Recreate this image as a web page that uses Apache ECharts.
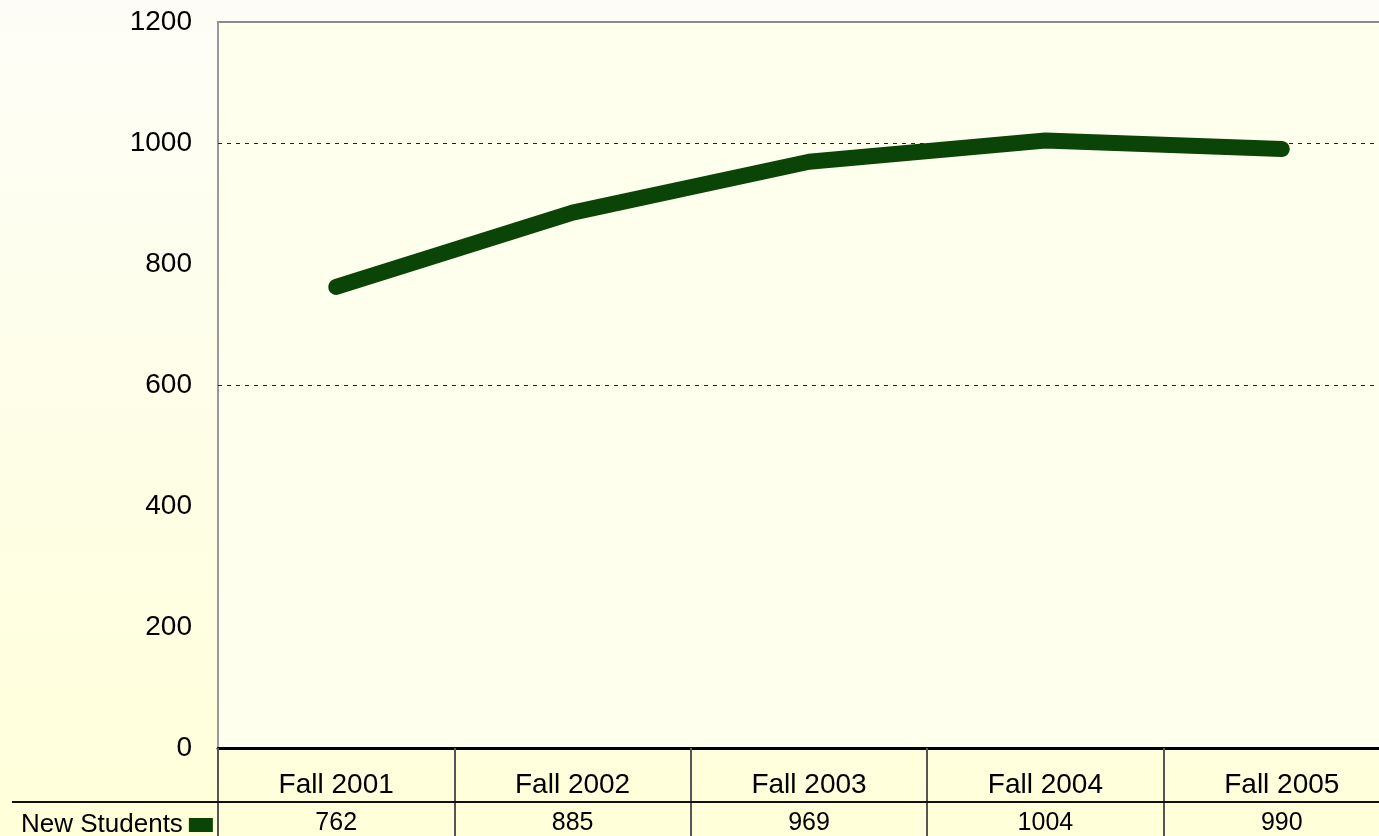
<!DOCTYPE html>
<html>
<head>
<meta charset="utf-8">
<script src="https://cdn.jsdelivr.net/npm/echarts@6/dist/echarts.min.js"></script>
<style>
html,body{margin:0;padding:0;width:1379px;height:836px;overflow:hidden;}
#chart{width:1379px;height:836px;}
</style>
</head>
<body>
<div id="chart"></div>
<script>
var categories = ['Fall 2001', 'Fall 2002', 'Fall 2003', 'Fall 2004', 'Fall 2005'];
var newStudents = [762, 885, 969, 1004, 990];
var seriesName = 'New Students';
var gridLineValues = [600, 1000];
var yMin = 0, yMax = 1200, yStep = 200;

var chart = echarts.init(document.getElementById('chart'));
var font = '"Liberation Sans", Arial, sans-serif';
chart.setOption({
  backgroundColor: new echarts.graphic.LinearGradient(0, 0, 0, 1, [
    {offset: 0, color: '#fdfdf7'},
    {offset: 1, color: '#ffffd9'}
  ]),
  animation: false,
  textStyle: {fontFamily: font},
  grid: {
    show: true,
    left: 218, top: 22, width: 1182, bottom: 88,
    outerBoundsMode: 'none',
    containLabel: false,
    backgroundColor: '#ffffee',
    borderColor: '#8a8a8a',
    borderWidth: 2
  },
  legend: {
    show: true,
    data: [seriesName],
    left: 16, top: 807,
    align: 'right',
    icon: 'rect',
    itemWidth: 24, itemHeight: 14,
    itemGap: 2,
    textStyle: {fontSize: 26, color: '#000', fontFamily: font, padding: [0, 1, 0, 0]}
  },
  xAxis: {
    type: 'category',
    data: categories,
    boundaryGap: true,
    axisLine: {show: true, lineStyle: {color: '#000', width: 3}},
    axisTick: {show: true, interval: 0, length: 88, lineStyle: {color: '#555', width: 2}},
    axisLabel: {
      interval: 0,
      margin: 17,
      color: '#000',
      formatter: function (v, i) { return '{c|' + v + '}\n{v|' + newStudents[i] + '}'; },
      rich: {
        c: {fontSize: 28, lineHeight: 40, color: '#000', fontFamily: font},
        v: {fontSize: 25, lineHeight: 36, color: '#000', fontFamily: font}
      }
    },
    splitLine: {show: false}
  },
  yAxis: {
    type: 'value',
    min: yMin, max: yMax, interval: yStep,
    axisLine: {show: true, lineStyle: {color: '#999', width: 2}},
    axisTick: {show: false},
    axisLabel: {fontSize: 28, color: '#000', margin: 26, fontFamily: font,
      formatter: function (v) { return String(v); }},
    splitLine: {show: false}
  },
  graphic: [{
    type: 'line',
    shape: {x1: 12, y1: 802, x2: 1379, y2: 802},
    style: {stroke: '#111', lineWidth: 2},
    z: 10
  }],
  series: [{
    name: seriesName,
    type: 'line',
    data: newStudents,
    symbol: 'none',
    color: '#0b4407',
    lineStyle: {color: '#0b4407', width: 16, cap: 'round', join: 'round'},
    markLine: {
      silent: true,
      symbol: 'none',
      label: {show: false},
      lineStyle: {color: '#222', type: [4, 5], width: 1},
      data: gridLineValues.map(function (v) { return {yAxis: v}; }),
      z: 1
    },
    z: 3
  }]
});
</script>
</body>
</html>
